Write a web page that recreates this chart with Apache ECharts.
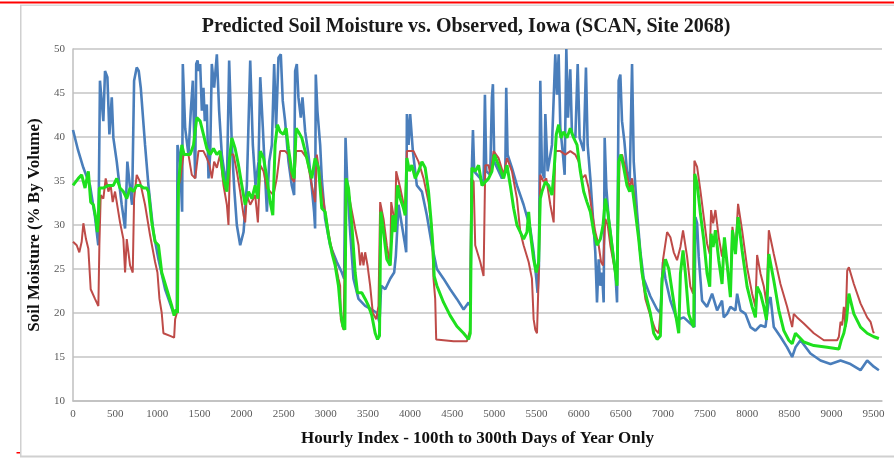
<!DOCTYPE html>
<html>
<head>
<meta charset="utf-8">
<script src="https://cdn.jsdelivr.net/npm/echarts@6/dist/echarts.min.js"></script>
<style>
html,body{margin:0;padding:0;background:#fff;}
#chart{width:894px;height:458px;}
</style>
</head>
<body>
<div id="chart"></div>
<script>
var titleText = "Predicted Soil Moisture vs. Observed, Iowa (SCAN, Site 2068)";
var yTitle = "Soil Moisture (% By Volume)";
var xTitle = "Hourly Index - 100th to 300th Days of Year Only";
var yTicks = [10, 15, 20, 25, 30, 35, 40, 45, 50];
var xTicks = [0, 500, 1000, 1500, 2000, 2500, 3000, 3500, 4000, 4500, 5000, 5500, 6000, 6500, 7000, 7500, 8000, 8500, 9000, 9500];

// Observed (blue)
var observed = [[0,40.8],[60,38.5],[123,36.5],[202,34.5],[260,31],[300,27.7],[320,46.4],[360,41.8],[380,47.5],[408,46.8],[432,40.3],[460,44.5],[479,39.9],[519,37.2],[578,32.3],[618,29.6],[645,37.2],[677,34.2],[701,32.3],[725,46.4],[756,47.9],[780,47.5],[804,45.6],[855,39.1],[895,34.5],[954,29.2],[1014,26.1],[1093,22.7],[1192,20.0],[1232,20.4],[1240,39.1],[1271,37.2],[1295,31.5],[1303,48.3],[1331,41],[1370,38],[1398,43],[1422,46.4],[1450,35.3],[1462,48.3],[1478,48.7],[1493,47.5],[1509,48.3],[1529,43],[1548,45.6],[1564,41.8],[1588,43.7],[1608,35.3],[1628,38],[1647,48.3],[1675,45.6],[1707,49.4],[1734,43],[1766,38],[1794,36.1],[1826,34.5],[1853,48.7],[1885,39.1],[1913,34.2],[1944,30],[1984,27.7],[2024,29.2],[2063,34.5],[2103,48.7],[2134,39.1],[2166,34.5],[2202,37.2],[2222,46.8],[2253,41],[2281,35.3],[2301,31.5],[2328,37.2],[2360,39.1],[2387,48.3],[2410,41],[2438,49],[2466,49.4],[2489,44.1],[2517,41.8],[2557,37.2],[2596,34.5],[2624,33.4],[2636,47.5],[2656,48.3],[2675,44.5],[2703,42.2],[2723,44.5],[2755,40.6],[2794,38],[2834,34.2],[2861,31.5],[2873,29.6],[2881,47.1],[2901,42.9],[2933,39.1],[2952,35.3],[2992,30.7],[3051,27.7],[3131,25.8],[3190,24.6],[3218,23.9],[3234,39.9],[3257,34.2],[3289,29.2],[3328,23.9],[3388,21.6],[3467,20.8],[3546,20.4],[3606,20],[3637,18.9],[3657,23.1],[3705,22.7],[3764,23.9],[3811,24.6],[3831,26.5],[3863,32.3],[3902,30],[3942,27.7],[3954,26.9],[3962,42.6],[3982,39.1],[4001,42.6],[4033,38.4],[4080,34.5],[4140,33.8],[4199,31.1],[4259,27.7],[4318,25],[4397,23.9],[4476,22.7],[4555,21.6],[4635,20.4],[4694,21.2],[4714,20.8],[4734,36.8],[4746,40.8],[4761,36.1],[4833,35.3],[4872,34.5],[4888,44.8],[4904,36.1],[4951,35.7],[4971,44.5],[4983,46],[4999,37.2],[5090,35.3],[5130,36.1],[5141,45.6],[5157,38],[5209,36.5],[5268,34.5],[5347,32.3],[5426,29.6],[5466,26.9],[5498,23.9],[5513,22.3],[5529,25.4],[5545,46.4],[5565,36.1],[5593,35.3],[5605,42.6],[5632,36.1],[5684,39.1],[5723,49.4],[5743,44.8],[5763,49.4],[5783,41],[5814,38],[5834,35.7],[5854,50],[5874,42.2],[5901,47.7],[5921,40.3],[5961,39.9],[5989,48.3],[6012,39.9],[6060,38.4],[6087,47.9],[6107,39.1],[6139,35.3],[6171,30.7],[6198,26.9],[6218,21.2],[6238,26.1],[6258,23.1],[6278,24.6],[6297,21.2],[6309,39.9],[6329,34.2],[6357,30.7],[6396,27.7],[6436,24.6],[6456,21.2],[6475,46.4],[6495,47.1],[6515,41.8],[6543,39.5],[6574,36.1],[6606,34.9],[6634,48.3],[6654,37.2],[6693,31.5],[6733,26.9],[6772,23.9],[6851,21.9],[6931,20.4],[6970,20],[7002,25.8],[7030,23.9],[7089,21.4],[7168,19.2],[7247,19.5],[7326,18.8],[7374,18.4],[7386,30.9],[7406,30.2],[7425,26.4],[7465,21.4],[7524,20.7],[7584,22.2],[7643,20.3],[7702,21.4],[7722,19.5],[7762,19.9],[7801,20.7],[7861,20.3],[7881,22.2],[7920,20.3],[7980,19.9],[8039,18.4],[8098,18],[8158,18.6],[8217,18.4],[8257,21.4],[8277,21.8],[8316,18.4],[8395,17.3],[8474,16.1],[8534,15],[8573,16.1],[8633,16.9],[8751,15.4],[8870,14.6],[8989,14.2],[9108,14.6],[9226,14.2],[9345,13.5],[9424,14.6],[9503,13.9],[9563,13.5]];

// Predicted (red)
var predictedRed = [[0,28.1],[44,27.7],[75,26.9],[103,28.1],[123,30.2],[154,28.4],[182,27.3],[210,22.7],[261,21.6],[301,20.8],[313,27.7],[329,33.4],[360,33],[388,35.3],[420,33.8],[447,34.5],[471,32.6],[499,33.8],[558,30.3],[598,28.4],[618,24.6],[638,28.4],[677,25.4],[709,24.6],[725,33],[756,35.7],[796,34.9],[855,32.3],[915,28.8],[974,25.8],[1002,24.6],[1026,21.6],[1053,20],[1073,17.7],[1152,17.4],[1200,17.2],[1212,19.3],[1232,20],[1251,34.5],[1271,35],[1311,38],[1370,38],[1410,35.7],[1450,35.3],[1489,38.4],[1548,38.4],[1588,37.6],[1620,36.8],[1647,35.3],[1675,37.2],[1707,36.5],[1746,38],[1786,34.5],[1826,32.3],[1845,30],[1865,38],[1905,38],[1944,36.1],[1984,33.8],[2024,31.1],[2043,30.3],[2063,33.4],[2103,32.3],[2162,33.4],[2194,30.3],[2222,36.8],[2261,36.1],[2301,34.2],[2340,33.8],[2379,33.4],[2418,35.3],[2458,38.4],[2517,38.4],[2557,38],[2596,35.3],[2624,34.9],[2648,38.4],[2715,38.4],[2774,37.6],[2834,34.5],[2873,32.6],[2893,38],[2933,35.3],[2992,31.5],[3051,28.1],[3111,25.8],[3150,23.9],[3170,23.1],[3178,19.3],[3210,18.1],[3229,18.1],[3241,35.3],[3289,32.6],[3348,29.6],[3388,27.7],[3408,25.4],[3427,26.9],[3447,25.4],[3467,26.9],[3495,25.4],[3526,23.1],[3558,20],[3598,19.3],[3625,20.8],[3645,32.6],[3685,30.7],[3724,27.7],[3764,25.4],[3776,32.6],[3823,30],[3835,36.1],[3883,34.2],[3942,31.5],[3962,38.4],[4041,38.4],[4100,37.2],[4160,35.3],[4219,32.6],[4259,29.6],[4278,23.9],[4298,21.6],[4310,17],[4516,16.8],[4674,16.8],[4714,18.1],[4726,35.3],[4754,34.9],[4773,27.7],[4833,25.8],[4872,24.2],[4892,36.8],[4932,36.8],[4951,35.7],[4991,38.4],[5050,37.6],[5110,35.7],[5150,37.6],[5209,36.1],[5268,33],[5308,29.2],[5347,27.7],[5407,25.8],[5446,23.9],[5466,19.3],[5486,18.1],[5506,17.7],[5525,23.9],[5545,35.7],[5585,34.9],[5616,35.3],[5664,32.3],[5704,30.3],[5723,38.4],[5783,38.4],[5842,38],[5901,38.4],[5961,38],[6001,37.2],[6040,35.3],[6080,35.7],[6119,34.2],[6159,31.5],[6198,29.2],[6238,27.7],[6266,25.8],[6290,25.4],[6317,30.7],[6345,30],[6376,27.7],[6436,24.6],[6456,23.9],[6487,37.6],[6515,38],[6555,36.5],[6606,34.2],[6634,35.3],[6673,32.3],[6713,28.4],[6752,24.6],[6792,21.6],[6851,19.7],[6911,18.1],[6950,17.7],[6978,20.8],[7002,26.1],[7050,29.2],[7089,28.6],[7129,26.9],[7168,26],[7208,27.5],[7239,29.4],[7287,26.4],[7326,23],[7358,22.2],[7374,37.3],[7406,36.6],[7445,33.9],[7485,30.9],[7524,27.9],[7556,26.7],[7572,31.7],[7596,30.2],[7623,31.7],[7663,28.6],[7702,26.4],[7730,28.3],[7762,25.2],[7801,23],[7825,29.8],[7861,27.1],[7892,32.4],[7940,29.4],[7999,25.2],[8059,22.2],[8098,20.7],[8118,26.6],[8158,24.5],[8198,23],[8229,21.1],[8257,29.4],[8316,26.7],[8395,23.3],[8474,20.7],[8534,18.4],[8553,19.9],[8593,19.5],[8613,19.7],[8672,18.8],[8791,17.7],[8910,16.9],[9068,16.9],[9088,17.3],[9108,19],[9128,18.6],[9147,20.7],[9167,18.4],[9187,24.8],[9207,25.2],[9266,23.3],[9345,21.1],[9424,19.5],[9464,19],[9492,18],[9503,17.7]];

// Predicted (green)
var predictedGreen = [[0,34.5],[63,35.3],[103,35.7],[143,34.2],[182,36.1],[210,32.6],[242,32.3],[273,30.7],[289,29.2],[301,30.7],[313,34.2],[360,34.2],[420,34.5],[479,34.5],[519,35.3],[558,34.2],[598,33.8],[638,33],[677,34.2],[717,33.8],[756,34.5],[796,34.5],[836,34.2],[875,34.2],[895,33.8],[935,30.3],[974,28.1],[1014,27.7],[1053,24.6],[1113,22.7],[1172,20.8],[1200,19.7],[1224,20.4],[1240,20],[1251,34.5],[1271,34.5],[1291,39.1],[1319,38],[1350,38],[1390,38],[1430,39.1],[1469,42.2],[1509,41.8],[1548,40.3],[1588,38.7],[1628,38],[1667,38.7],[1707,38],[1746,38.4],[1786,35.3],[1826,33.8],[1857,37.6],[1885,39.9],[1924,38.7],[1964,36.8],[2004,34.5],[2043,32.3],[2083,33.8],[2123,33],[2162,34.5],[2194,33],[2222,38.4],[2261,37.6],[2301,35.3],[2340,32.6],[2371,31.1],[2398,39.1],[2426,41.4],[2458,40.6],[2497,40.3],[2529,41],[2557,38.7],[2596,36.1],[2624,35.3],[2648,41],[2675,40.6],[2715,39.9],[2755,38.4],[2794,36.8],[2834,35.3],[2873,37.6],[2913,36.5],[2933,34.2],[2952,31.9],[2992,31.5],[3032,28.8],[3071,26.9],[3111,25.4],[3150,23.1],[3178,20],[3202,18.5],[3226,18.1],[3241,35.3],[3269,34.2],[3309,30],[3348,24.6],[3376,22.3],[3427,22.3],[3467,21.6],[3507,20.8],[3546,19.7],[3586,17.7],[3614,17],[3637,17.4],[3653,31.5],[3685,29.2],[3724,26.1],[3764,25.4],[3796,31.1],[3823,29.2],[3851,34.5],[3883,33],[3922,31.9],[3942,31.1],[3962,37.6],[3993,36.1],[4021,36.8],[4061,35.3],[4100,36.1],[4140,37.2],[4179,36.5],[4219,33.8],[4247,30.7],[4270,27.7],[4286,24.2],[4318,23.1],[4397,21.2],[4476,19.7],[4555,18.5],[4635,17.7],[4694,17],[4714,17.7],[4734,36.5],[4773,36.1],[4813,36.8],[4853,34.5],[4892,34.9],[4932,35.3],[4971,36.1],[4999,38],[5050,36.8],[5110,35.3],[5150,36.8],[5189,34.5],[5229,31.9],[5268,30],[5308,29.2],[5347,28.4],[5387,29.2],[5407,31.5],[5426,29.2],[5466,26.1],[5498,24.6],[5525,25.8],[5545,33],[5565,33.8],[5605,34.9],[5644,34.5],[5684,33.4],[5711,36.5],[5735,40.3],[5763,41.4],[5791,39.9],[5822,40.6],[5862,39.9],[5901,41],[5941,39.9],[5981,39.1],[6020,36.1],[6060,33.8],[6099,32.6],[6139,31.5],[6179,29.2],[6218,27.7],[6258,28.4],[6290,30],[6317,33],[6345,31.5],[6376,29.2],[6416,26.1],[6456,23.1],[6475,37.2],[6503,38],[6535,36.5],[6574,34.5],[6606,33.8],[6634,34.5],[6673,31.5],[6713,28.4],[6752,24.6],[6792,22.3],[6851,20],[6891,17.7],[6931,17],[6970,17.4],[6990,23.9],[7030,26.1],[7070,25],[7109,22.5],[7148,20],[7188,17.7],[7208,24.5],[7239,27.1],[7267,24.5],[7306,19.9],[7346,18.8],[7366,18.4],[7378,35.8],[7406,34.7],[7445,31.3],[7485,28.3],[7524,24.5],[7556,23],[7572,29],[7596,27.5],[7623,29.4],[7663,26],[7702,23.3],[7730,28.6],[7762,25.6],[7801,21.8],[7825,29.4],[7861,26.7],[7892,30.9],[7940,27.1],[7999,23],[8059,20.7],[8098,19.5],[8118,23],[8158,22.2],[8198,20.7],[8229,19.2],[8257,26.7],[8316,23.7],[8376,20.3],[8435,18],[8494,16.9],[8534,16.5],[8573,17.7],[8613,17.3],[8672,16.7],[8791,16.3],[8949,16.1],[9088,15.9],[9116,16.9],[9147,17.7],[9179,19.2],[9207,22.2],[9266,19.9],[9345,18.4],[9424,17.7],[9503,17.3],[9563,17.1]];

var chart = echarts.init(document.getElementById('chart'), null, {renderer: 'canvas'});
var serif = '"Liberation Serif", "Times New Roman", serif';
var plain = function (v) { return String(v); };

chart.setOption({
  animation: false,
  backgroundColor: '#ffffff',
  title: {
    text: titleText,
    left: 461,
    top: 12,
    textAlign: 'center',
    textStyle: {fontFamily: serif, fontSize: 20, fontWeight: 'bold', color: '#1a1a1a'}
  },
  graphic: [
    {type: 'rect', shape: {x: 0, y: 1.5, width: 894, height: 2}, style: {fill: '#ff0000'}, silent: true},
    {type: 'rect', shape: {x: 20, y: 4.5, width: 874, height: 1.5}, style: {fill: '#d9d9d9'}, silent: true},
    {type: 'rect', shape: {x: 20, y: 5, width: 1.5, height: 452}, style: {fill: '#d0d0d0'}, silent: true},
    {type: 'rect', shape: {x: 20, y: 455.5, width: 874, height: 2}, style: {fill: '#d0d0d0'}, silent: true},
    {type: 'rect', shape: {x: 16.5, y: 452, width: 3.5, height: 1.5}, style: {fill: '#ff0000'}, silent: true}
  ],
  grid: {left: 73, right: 12, top: 49, bottom: 57, containLabel: false},
  xAxis: {
    type: 'value',
    min: xTicks[0],
    max: 9600,
    interval: 500,
    name: xTitle,
    nameLocation: 'middle',
    nameGap: 29,
    nameTextStyle: {fontFamily: serif, fontSize: 17, fontWeight: 'bold', color: '#111'},
    axisLine: {show: true, lineStyle: {color: '#bfbfbf', width: 1.5}},
    axisTick: {show: false},
    splitLine: {show: false},
    axisLabel: {
      showMaxLabel: false,
      margin: 8,
      formatter: plain,
      fontFamily: serif, fontSize: 11, color: '#595959'
    }
  },
  yAxis: {
    type: 'value',
    min: yTicks[0],
    max: yTicks[yTicks.length - 1],
    interval: 5,
    name: yTitle,
    nameLocation: 'middle',
    nameGap: 30,
    nameRotate: 90,
    nameTextStyle: {fontFamily: serif, fontSize: 17, fontWeight: 'bold', color: '#111'},
    axisLine: {show: true, lineStyle: {color: '#bfbfbf', width: 1.5}},
    axisTick: {show: false},
    splitLine: {show: true, lineStyle: {color: '#c4c4c4', width: 1.5}},
    axisLabel: {margin: 8, formatter: plain, fontFamily: serif, fontSize: 11, color: '#595959'}
  },
  series: [
    {name: 'Observed', type: 'line', data: observed, showSymbol: false, symbol: 'none',
     lineStyle: {color: '#4a7ebb', width: 2.6}, itemStyle: {color: '#4a7ebb'}},
    {name: 'Predicted A', type: 'line', data: predictedRed, showSymbol: false, symbol: 'none',
     lineStyle: {color: '#be4b48', width: 2}, itemStyle: {color: '#be4b48'}},
    {name: 'Predicted B', type: 'line', data: predictedGreen, showSymbol: false, symbol: 'none',
     lineStyle: {color: '#1ee01e', width: 3}, itemStyle: {color: '#1ee01e'}}
  ]
});
</script>
</body>
</html>
